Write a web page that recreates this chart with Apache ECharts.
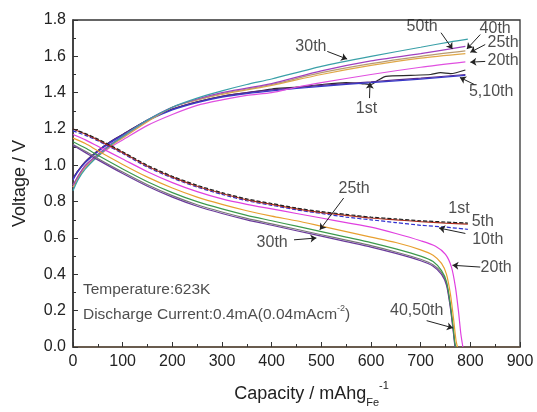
<!DOCTYPE html>
<html>
<head>
<meta charset="utf-8">
<script src="https://cdn.jsdelivr.net/npm/echarts@6/dist/echarts.min.js"></script>
<style>
    html, body { margin: 0; padding: 0; background: #fff; }
    #chart { width: 537px; height: 412px; }
</style>
</head>
<body>
<div id="chart"></div>
<script>
// charge curves: [capacity mAh/g, voltage V]
const charge1 = [[0,0.93],[10,0.97],[25,1.02],[50,1.08],[75,1.13],[100,1.17],[150,1.25],[200,1.31],[250,1.35],[300,1.38],[350,1.40],[400,1.42],[450,1.43],[500,1.445],[550,1.455],[580,1.45],[600,1.445],[615,1.47],[630,1.49],[680,1.495],[720,1.50],[740,1.51],[760,1.505],[790,1.525]];
const charge5 = [[0,0.93],[10,0.97],[25,1.02],[50,1.08],[75,1.13],[100,1.17],[150,1.25],[200,1.31],[250,1.35],[300,1.38],[350,1.40],[400,1.415],[500,1.44],[600,1.46],[700,1.48],[790,1.50]];
const charge10 = [[0,0.92],[10,0.965],[25,1.015],[50,1.075],[75,1.125],[100,1.165],[150,1.245],[200,1.305],[250,1.345],[300,1.375],[350,1.395],[400,1.41],[500,1.435],[600,1.455],[700,1.475],[790,1.495]];
const charge20 = [[0,0.88],[10,0.93],[25,0.99],[50,1.05],[75,1.10],[100,1.14],[150,1.22],[200,1.28],[250,1.33],[300,1.36],[350,1.385],[400,1.40],[450,1.43],[500,1.455],[600,1.50],[700,1.54],[790,1.57]];
const charge25 = [[0,0.88],[10,0.93],[25,0.99],[50,1.05],[75,1.105],[100,1.15],[150,1.24],[200,1.32],[250,1.36],[300,1.39],[350,1.415],[400,1.44],[500,1.50],[600,1.55],[700,1.59],[790,1.615]];
const charge30 = [[0,0.86],[10,0.92],[25,0.98],[50,1.05],[75,1.11],[100,1.16],[150,1.25],[200,1.32],[250,1.37],[300,1.41],[350,1.445],[400,1.475],[500,1.545],[600,1.60],[700,1.65],[760,1.68],[795,1.695]];
const charge40 = [[0,0.89],[10,0.94],[25,1.00],[50,1.06],[75,1.11],[100,1.155],[150,1.245],[200,1.32],[250,1.36],[300,1.395],[350,1.42],[400,1.445],[500,1.51],[600,1.56],[700,1.60],[790,1.63]];
const charge50 = [[0,0.89],[10,0.94],[25,1.00],[50,1.06],[75,1.115],[100,1.16],[150,1.25],[200,1.32],[250,1.365],[300,1.40],[350,1.425],[400,1.45],[500,1.52],[600,1.575],[700,1.615],[790,1.655]];

// discharge curves
const discharge1 = [[0,1.20],[25,1.175],[50,1.145],[100,1.075],[150,1.00],[200,0.94],[250,0.89],[300,0.85],[350,0.815],[400,0.79],[450,0.765],[500,0.745],[550,0.73],[600,0.715],[650,0.705],[700,0.695],[750,0.688],[795,0.682]];
const discharge5 = [[0,1.20],[25,1.172],[50,1.14],[100,1.07],[150,0.995],[200,0.935],[250,0.885],[300,0.845],[350,0.81],[400,0.785],[450,0.76],[500,0.74],[550,0.725],[600,0.71],[650,0.70],[700,0.69],[750,0.682],[795,0.676]];
const discharge10 = [[0,1.19],[25,1.165],[50,1.135],[100,1.065],[150,0.99],[200,0.93],[250,0.88],[300,0.84],[350,0.805],[400,0.78],[450,0.755],[500,0.735],[550,0.715],[600,0.70],[650,0.685],[700,0.67],[750,0.66],[795,0.648]];
const discharge20 = [[0,1.17],[25,1.14],[50,1.105],[100,1.035],[150,0.965],[200,0.905],[250,0.855],[300,0.815],[350,0.785],[400,0.76],[450,0.735],[500,0.71],[550,0.685],[600,0.66],[650,0.625],[700,0.585],[730,0.555],[750,0.51],[762,0.44],[770,0.33],[776,0.2],[781,0.07],[785,0]];
const discharge25 = [[0,1.15],[25,1.12],[50,1.08],[100,1.005],[150,0.935],[200,0.875],[250,0.825],[300,0.785],[350,0.75],[400,0.72],[450,0.695],[500,0.665],[550,0.635],[600,0.605],[650,0.575],[700,0.535],[725,0.505],[742,0.46],[752,0.40],[760,0.29],[766,0.16],[771,0.04],[774,0]];
const discharge30 = [[0,1.13],[25,1.095],[50,1.055],[100,0.98],[150,0.91],[200,0.85],[250,0.80],[300,0.76],[350,0.725],[400,0.695],[450,0.665],[500,0.635],[550,0.605],[600,0.575],[650,0.54],[700,0.50],[725,0.47],[742,0.42],[752,0.36],[759,0.25],[765,0.12],[769,0.02],[771,0]];
const discharge40 = [[0,1.11],[25,1.07],[50,1.03],[100,0.955],[150,0.885],[200,0.825],[250,0.775],[300,0.735],[350,0.70],[400,0.67],[450,0.64],[500,0.61],[550,0.58],[600,0.55],[650,0.515],[700,0.475],[725,0.445],[742,0.40],[752,0.34],[759,0.23],[765,0.10],[769,0]];
const discharge50 = [[0,1.115],[25,1.078],[50,1.038],[100,0.963],[150,0.893],[200,0.833],[250,0.783],[300,0.743],[350,0.708],[400,0.678],[450,0.648],[500,0.618],[550,0.588],[600,0.558],[650,0.523],[700,0.483],[725,0.453],[742,0.41],[752,0.35],[759,0.24],[765,0.11],[769,0.01],[770,0]];

// tick labels
const xTicks = [0, 100, 200, 300, 400, 500, 600, 700, 800, 900];
const yTicks = [0, 0.2, 0.4, 0.6, 0.8, 1.0, 1.2, 1.4, 1.6, 1.8];

// cycle labels: text, label position, arrow tail, arrow tip (data coords)
const labelNames = ['50th', '40th', '25th', '20th', '5,10th', '1st', '30th', '25th', '30th', '1st', '5th', '10th', '20th', '40,50th'];
const labelPos = [[703,1.762],[850,1.754],[866,1.675],[866,1.576],[842,1.405],[591,1.314],[479,1.653],[566,0.873],[401,0.574],[777,0.763],[825,0.69],[835,0.59],[852,0.435],[692,0.198]];
const arrowFrom = [[741,1.73],[820,1.72],[830,1.665],[830,1.572],[808,1.445],[597,1.37],[512,1.627],[545,0.82],[445,0.59],null,null,[790,0.625],[820,0.44],[712,0.145]];
const arrowTo = [[764,1.64],[793,1.64],[800,1.622],[800,1.568],[779,1.484],[598,1.455],[552,1.585],[497,0.645],[490,0.60],null,null,[737,0.655],[764,0.45],[765,0.105]];

const noteTexts = ['Temperature:623K', 'Discharge Current:0.4mA(0.04mAcm{sup|-2})'];
const notePos = [[20,0.314],[20,0.176]];

const FONT = '"Liberation Sans", Arial, sans-serif';

const curve = (name, data, color, dashed) => ({
    name: name,
    type: 'line',
    data: data,
    showSymbol: false,
    smooth: 0.25,
    silent: true,
    lineStyle: { color: color, width: 1.2, type: dashed ? [4, 2] : 'solid' },
    z: 2
});

const arrowLines = [];
labelNames.forEach((n, i) => {
    if (arrowFrom[i]) {
        arrowLines.push([{ coord: arrowFrom[i] }, { coord: arrowTo[i] }]);
    }
});

const option = {
    animation: false,
    backgroundColor: '#fff',
    textStyle: { fontFamily: FONT },
    grid: {
        left: 73, right: 17, top: 20, bottom: 65,
        outerBoundsMode: 'none',
        containLabel: false,
        show: true, borderColor: '#333', borderWidth: 1.3
    },
    xAxis: {
        type: 'value',
        min: xTicks[0], max: xTicks[xTicks.length - 1], interval: 100,
        name: 'Capacity / mAhg{sub|Fe}{sup|-1}',
        nameLocation: 'middle',
        nameGap: 33,
        nameTextStyle: {
            fontSize: 18, color: '#222', fontFamily: FONT, lineHeight: 28,
            padding: [0, 0, 0, 30],
            rich: {
                sub: { fontSize: 11, verticalAlign: 'bottom', lineHeight: 28, fontFamily: FONT, color: '#222' },
                sup: { fontSize: 11, verticalAlign: 'top', lineHeight: 28, fontFamily: FONT, color: '#222' }
            }
        },
        axisLine: { lineStyle: { color: '#6b5a48', width: 1.5 } },
        axisTick: { inside: true, length: 5, lineStyle: { color: '#333' } },
        minorTick: { show: true, splitNumber: 2, length: 3, lineStyle: { color: '#333' } },
        splitLine: { show: false },
        axisLabel: { fontSize: 16, color: '#222', margin: 7, fontFamily: FONT }
    },
    yAxis: {
        type: 'value',
        min: yTicks[0], max: yTicks[yTicks.length - 1], interval: 0.2,
        name: 'Voltage / V',
        nameLocation: 'middle',
        nameGap: 44,
        nameTextStyle: { fontSize: 18, color: '#222', fontFamily: FONT },
        axisLine: { lineStyle: { color: '#333', width: 1.5 } },
        axisTick: { inside: true, length: 5, lineStyle: { color: '#333' } },
        minorTick: { show: true, splitNumber: 2, length: 3, lineStyle: { color: '#333' } },
        splitLine: { show: false },
        axisLabel: {
            fontSize: 16, color: '#222', margin: 7, fontFamily: FONT,
            formatter: v => v.toFixed(1)
        }
    },
    series: [
        curve('c1', charge1, '#2a2a2a'),
        curve('c5', charge5, '#5a2a8a'),
        curve('c10', charge10, '#3838c8'),
        curve('c20', charge20, '#e050e0'),
        curve('c25', charge25, '#e0a848'),
        curve('c40', charge40, '#b89a70'),
        curve('c50', charge50, '#a040c0'),
        curve('c30', charge30, '#3aa0a8'),
        curve('d50', discharge50, '#777777'),
        curve('d40', discharge40, '#6a3a9a'),
        curve('d30', discharge30, '#3c9a4c'),
        curve('d25', discharge25, '#e8a030'),
        curve('d20', discharge20, '#e040e0'),
        curve('d10', discharge10, '#3030d0', true),
        curve('d5', discharge5, '#b03020'),
        curve('d1', discharge1, '#222222', true),
        {
            name: 'labels',
            type: 'scatter',
            silent: true,
            symbolSize: 0,
            z: 5,
            data: labelNames.map((n, i) => ({ name: n, value: labelPos[i] })),
            label: {
                show: true, position: 'inside', formatter: '{b}',
                fontSize: 16, color: '#222', fontFamily: FONT
            },
            markLine: {
                silent: true,
                symbol: ['none', 'arrow'],
                symbolSize: 6,
                label: { show: false },
                lineStyle: { color: '#222', width: 1, type: 'solid' },
                data: arrowLines
            }
        },
        {
            name: 'notes',
            type: 'scatter',
            silent: true,
            symbolSize: 0,
            z: 5,
            data: noteTexts.map((t, i) => ({ name: t, value: notePos[i] })),
            label: {
                show: true, position: 'right', distance: 0, formatter: '{b}',
                fontSize: 15.5, color: '#222', fontFamily: FONT,
                rich: {
                    sup: { fontSize: 9, verticalAlign: 'top', lineHeight: 22, fontFamily: FONT, color: '#222' }
                }
            }
        }
    ]
};

const chart = echarts.init(document.getElementById('chart'));
chart.setOption(option);
</script>
</body>
</html>
